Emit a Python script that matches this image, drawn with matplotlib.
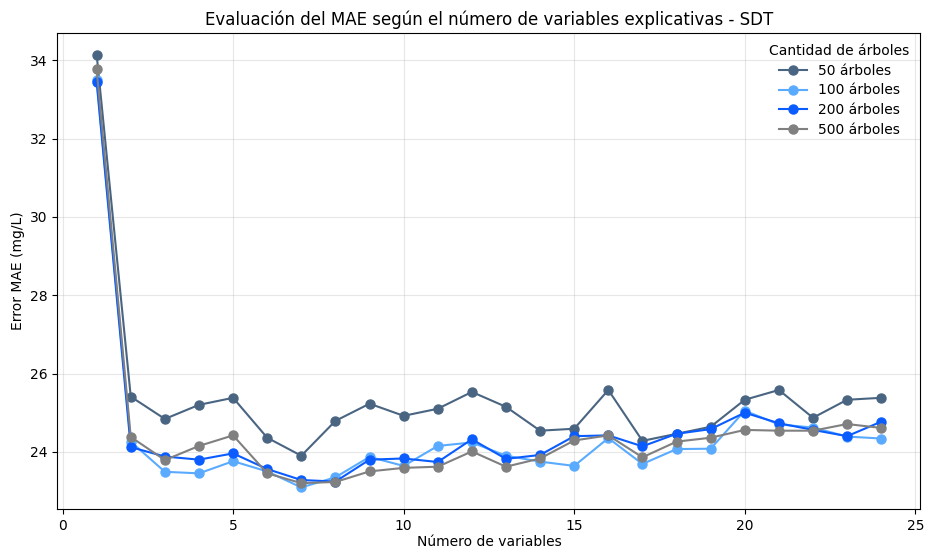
import numpy as np
import matplotlib.pyplot as plt

# numero de variables explicativas
n_vars = list(range(1, 25))

# MAE por cantidad de arboles
mae_50 = [34.15, 25.41, 24.84, 25.20, 25.38, 24.36, 23.90, 24.79, 25.23, 24.92, 25.10, 25.53,
          25.15, 24.54, 24.59, 25.58, 24.28, 24.46, 24.64, 25.33, 25.58, 24.87, 25.33, 25.38]
mae_100 = [33.51, 24.26, 23.49, 23.45, 23.76, 23.50, 23.09, 23.35, 23.87, 23.64, 24.15, 24.24,
           23.90, 23.75, 23.64, 24.35, 23.69, 24.07, 24.08, 25.05, 24.70, 24.62, 24.39, 24.34]
mae_200 = [33.45, 24.12, 23.88, 23.80, 23.96, 23.56, 23.28, 23.24, 23.80, 23.83, 23.74, 24.32,
           23.82, 23.92, 24.40, 24.42, 24.14, 24.46, 24.58, 25.00, 24.73, 24.56, 24.40, 24.77]
mae_500 = [33.77, 24.38, 23.79, 24.15, 24.42, 23.45, 23.20, 23.23, 23.50, 23.59, 23.62, 24.01,
           23.62, 23.83, 24.29, 24.42, 23.86, 24.26, 24.36, 24.56, 24.54, 24.54, 24.71, 24.61]

series = [
    ('50 árboles', mae_50, '#4a6582'),
    ('100 árboles', mae_100, '#5aabff'),
    ('200 árboles', mae_200, '#0a5cff'),
    ('500 árboles', mae_500, '#808080'),
]

fig, ax = plt.subplots(figsize=(9.26, 5.48), dpi=100)

for label, vals, color in series:
    ax.plot(n_vars, vals, marker='o', markersize=6.5, linewidth=1.5, color=color, label=label)

ax.set_title('Evaluación del MAE según el número de variables explicativas - SDT', fontsize=12)
ax.set_xlabel('Número de variables', labelpad=1.5)
ax.set_ylabel('Error MAE (mg/L)')
ax.set_xticks([0, 5, 10, 15, 20, 25])
ax.set_yticks([24, 26, 28, 30, 32, 34])
ax.grid(True, alpha=0.3)
ax.legend(title='Cantidad de árboles', loc='upper right', frameon=False,
          labelspacing=0.41, borderaxespad=0.4)

plt.subplots_adjust(left=0.062, right=0.994, bottom=0.071, top=0.94)
plt.savefig('out.png')
